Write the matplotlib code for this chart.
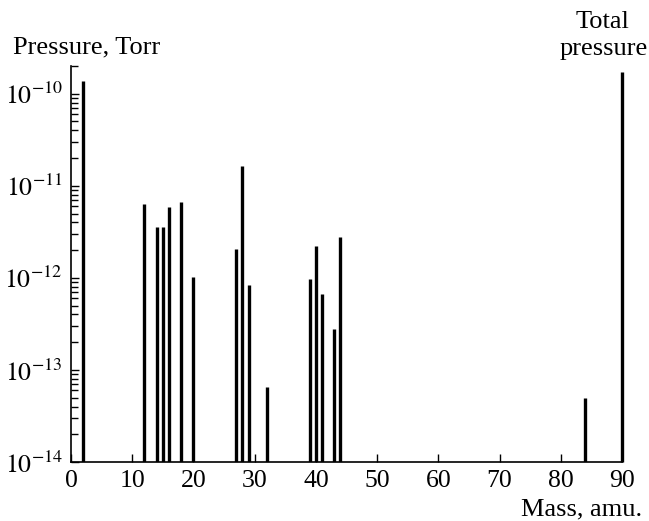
import matplotlib
matplotlib.use('Agg')
import matplotlib.pyplot as plt
from matplotlib.ticker import LogLocator, NullFormatter

plt.rcParams['font.family'] = ['Liberation Serif', 'DejaVu Serif']
plt.rcParams['mathtext.fontset'] = 'stix'

# mass spectrum peaks (amu) and partial pressures (Torr)
masses = [2, 12, 14, 15, 16, 18, 20, 27, 28, 29, 32, 39, 40, 41, 43, 44, 84]
pressures = [1.38e-10, 6.3e-12, 3.55e-12, 3.55e-12, 5.95e-12, 6.7e-12, 1.02e-12,
             2.06e-12, 1.62e-11, 8.3e-13, 6.5e-14, 9.7e-13, 2.24e-12, 6.6e-13,
             2.8e-13, 2.75e-12, 5.0e-14]
total_pos = 90
total_pressure = 1.7e-10

x_ticks = [0, 10, 20, 30, 40, 50, 60, 70, 80, 90]
y_ticks = [1e-14, 1e-13, 1e-12, 1e-11, 1e-10]
y_ticklabels = [r'$10^{-14}$', r'$10^{-13}$', r'$10^{-12}$', r'$10^{-11}$', r'$10^{-10}$']

W, H = 649, 521
fig = plt.figure(figsize=(W/100, H/100), dpi=100)
ax = fig.add_axes([71/W, (H-462)/H, (622-71)/W, (462-66)/H])

ax.set_yscale('log')
ax.set_xlim(0, 90)
ax.set_ylim(1e-14, 2e-10)

ax.vlines(masses, 1e-14, pressures, colors='black', linewidth=2.4)
ax.vlines([total_pos], 1e-14, [total_pressure], colors='black', linewidth=2.4, clip_on=False)

ax.spines['top'].set_visible(False)
ax.spines['right'].set_visible(False)
ax.spines['left'].set_linewidth(1.2)
ax.spines['bottom'].set_linewidth(1.2)

ax.set_xticks(x_ticks)
ax.set_xticklabels([str(t) for t in x_ticks])
ax.set_yticks(y_ticks)
ax.set_yticklabels(y_ticklabels)
ax.yaxis.set_minor_locator(LogLocator(base=10, subs=range(2, 10)))
ax.yaxis.set_minor_formatter(NullFormatter())

ax.tick_params(axis='both', which='major', direction='in', length=6, width=1, labelsize=18.5, pad=6)
ax.tick_params(axis='y', which='minor', direction='in', length=5, width=1)
ax.tick_params(top=False, right=False)

# labels placed in pixel coords (baselines)
fig.text(13/W, 1 - 53/H, 'Pressure, Torr', fontsize=19, ha='left', va='baseline')
fig.text(603/W, 1 - 28/H, 'Total', fontsize=19, ha='center', va='baseline')
fig.text(603.5/W, 1 - 55/H, 'pressure', fontsize=19, ha='center', va='baseline')
fig.text(642/W, 1 - 515/H, 'Mass, amu.', fontsize=19, ha='right', va='baseline')

fig.savefig('out.png', dpi=100)
